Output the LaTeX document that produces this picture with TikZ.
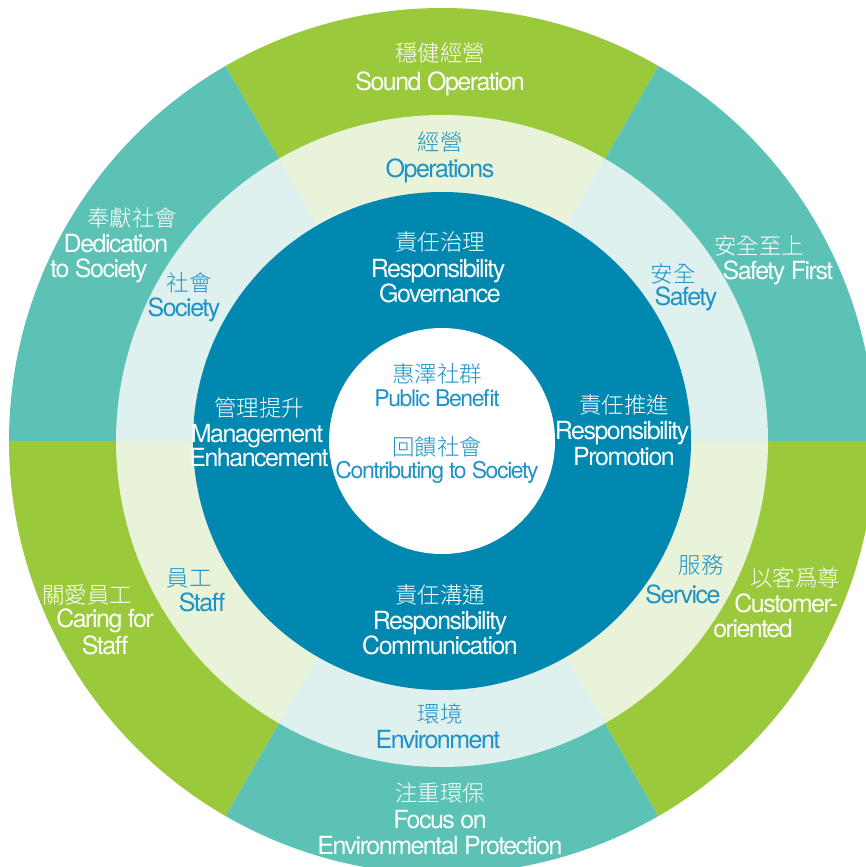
\documentclass[tikz,border=0pt]{standalone}
\usepackage{fontspec}
\setmainfont{TeX Gyre Heros}[LetterSpace=-6]
\IfFontExistsTF{Noto Sans CJK TC Light}{\newfontfamily\cjk{Noto Sans CJK TC Light}}{\newfontfamily\cjk{Noto Sans CJK TC}}
\definecolor{ogreen}{HTML}{9ACA3C}
\definecolor{oteal}{HTML}{5BC2B5}
\definecolor{pgreen}{HTML}{E9F3D9}
\definecolor{pteal}{HTML}{DEF1EF}
\definecolor{dblue}{HTML}{0088B0}
\definecolor{tblue}{HTML}{1E92C6}
\newcommand\ringsector[5]{\fill[#1] (#2:#5) arc[start angle=#2,end angle=#3,radius=#5] -- (#3:#4) arc[start angle=#3,end angle=#2,radius=#4] -- cycle;}
\tikzset{
  en/.style={inner sep=0pt, anchor=base, font=\fontsize{25}{25}\selectfont},
  ens/.style={inner sep=0pt, anchor=base, font=\fontsize{23}{23}\selectfont},
  zh/.style={inner sep=0pt, anchor=base, font=\cjk\fontsize{22.5}{22.5}\selectfont},
  wt/.style={text=white},
  bt/.style={text=tblue},
}
\begin{document}
\begin{tikzpicture}[x=1pt,y=1pt]
\clip (0,0) rectangle (866,-867);
\fill[white] (0,0) rectangle (866,-867);
\begin{scope}[shift={(442,-441)}]
  % outer ring
  \ringsector{ogreen}{60}{120}{320}{433}
  \ringsector{oteal}{120}{180}{320}{433}
  \ringsector{ogreen}{180}{240}{320}{433}
  \ringsector{oteal}{240}{300}{320}{433}
  \ringsector{ogreen}{300}{360}{320}{433}
  \ringsector{oteal}{0}{60}{320}{433}
  % middle ring
  \ringsector{pgreen}{60}{120}{240}{326}
  \ringsector{pteal}{120}{180}{240}{326}
  \ringsector{pgreen}{180}{240}{240}{326}
  \ringsector{pteal}{240}{300}{240}{326}
  \ringsector{pgreen}{300}{360}{240}{326}
  \ringsector{pteal}{0}{60}{240}{326}
  % inner ring and centre
  \fill[dblue] (0,0) circle[radius=249];
  \fill[white] (0,0) circle[radius=113];
\end{scope}
% top
\node[zh,wt] (t1a) at (440,-62) {穩健經營};
\node[en,wt] (t1b) at (440,-90) {Sound Operation};
\node[zh,bt] (t2a) at (440,-150) {經營};
\node[en,bt] (t2b) at (440,-177) {Operations};
\node[zh,wt] (t3a) at (440,-250) {責任治理};
\node[en,wt] (t3b) at (438,-277) {Responsibility};
\node[en,wt] (t3c) at (440,-302) {Governance};
% centre
\node[zh,bt] (c1a) at (437,-382) {惠澤社群};
\node[ens,bt] (c1b) at (437,-406) {Public Benefit};
\node[zh,bt] (c2a) at (437,-455) {回饋社會};
\node[ens,bt] (c2b) at (437,-478) {Contributing to Society};
% left / right of dark ring
\node[zh,wt] (l1a) at (259,-416) {管理提升};
\node[en,wt] (l1b) at (257,-442) {Management};
\node[en,wt] (l1c) at (259,-466) {Enhancement};
\node[zh,wt] (r1a) at (624,-413) {責任推進};
\node[en,wt] (r1b) at (622,-439) {Responsibility};
\node[en,wt] (r1c) at (624,-465) {Promotion};
% bottom of dark ring
\node[zh,wt] (b1a) at (440,-603) {責任溝通};
\node[en,wt] (b1b) at (440,-629) {Responsibility};
\node[en,wt] (b1c) at (440,-654) {Communication};
% safety
\node[zh,bt] (s1a) at (673,-282) {安全};
\node[en,bt] (s1b) at (686,-305) {Safety};
\node[zh,wt] (s2a) at (759,-254) {安全至上};
\node[en,wt] (s2b) at (778,-279) {Safety First};
% society
\node[zh,bt] (so1a) at (189,-291) {社會};
\node[en,bt] (so1b) at (184,-316) {Society};
\node[zh,wt] (so2a) at (132,-226) {奉獻社會};
\node[en,wt] (so2b) at (116,-252) {Dedication};
\node[en,wt] (so2c) at (99,-277) {to Society};
% staff
\node[zh,wt] (st2a) at (87,-603) {關愛員工};
\node[en,wt] (st2b) at (105,-627) {Caring for};
\node[en,wt] (st2c) at (105,-654) {Staff};
\node[zh,bt] (st1a) at (189,-586) {員工};
\node[en,bt] (st1b) at (202,-611) {Staff};
% environment
\node[zh,bt] (e1a) at (440,-722) {環境};
\node[en,bt] (e1b) at (438,-748) {Environment};
\node[zh,wt] (e2a) at (440,-801) {注重環保};
\node[en,wt] (e2b) at (440,-828) {Focus on};
\node[en,wt] (e2c) at (440,-854) {Environmental Protection};
% service
\node[zh,bt] (sv1a) at (701,-573) {服務};
\node[en,bt] (sv1b) at (683,-603) {Service};
\node[zh,wt] (sv2a) at (795,-586) {以客爲尊};
\node[en,wt] (sv2b) at (786,-612) {Customer-};
\node[en,wt] (sv2c) at (753,-637) {oriented};
\end{tikzpicture}
\end{document}
